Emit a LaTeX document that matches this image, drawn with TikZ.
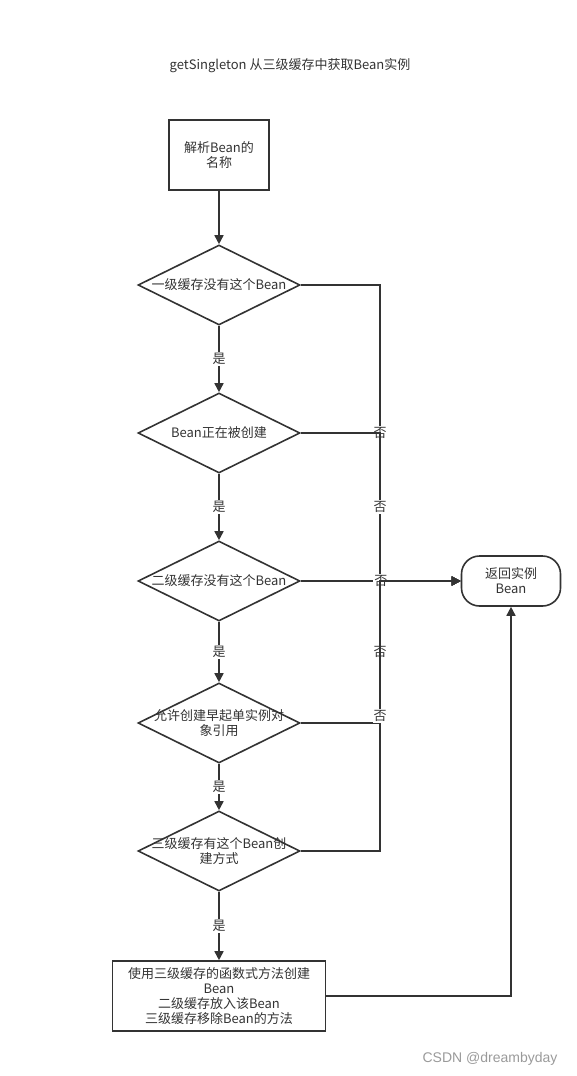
\documentclass[tikz,border=0pt]{standalone}
\usepackage{fontspec}
\setmainfont{Noto Sans CJK SC}
\newfontfamily\markfont{Liberation Sans}
\usetikzlibrary{shapes.geometric,arrows.meta,positioning}
\definecolor{linegray}{HTML}{333333}
\definecolor{markgray}{HTML}{9A9A9A}

\begin{document}
\begin{tikzpicture}[x=1pt, y=1pt, node distance=148pt, color=linegray,
                    line width=1.6pt,
                    every node/.style={font=\fontsize{13}{15}\selectfont},
                    main node/.style={rectangle, draw, align=center, inner sep=0pt,
                                      minimum width=100pt, minimum height=70pt},
                    decision/.style={diamond, draw, inner sep=0pt,
                                     minimum width=162pt, minimum height=80pt},
                    end node/.style={rectangle, rounded corners=18pt, draw, align=center,
                                     minimum width=99pt, minimum height=50pt},
                    answer/.style={fill=white, inner sep=1pt},
                    flow/.style={-{Triangle[length=9pt,width=9pt]}}]
    \useasboundingbox (0,0) rectangle (577,-1076);

    \node (title) at (290,-66) {getSingleton 从三级缓存中获取Bean实例};

    \node[main node] (1) at (219,-155)                 {解析Bean的\\名称};
    \node[decision, label={[align=center]center:一级缓存没有这个Bean}]
                     (2) [below of=1, yshift=18pt]      {};
    \node[decision, label={[align=center]center:Bean正在被创建}]
                     (3) [below of=2]                   {};
    \node[decision, label={[align=center]center:二级缓存没有这个Bean}]
                     (4) [below of=3]                   {};
    \node[decision, label={[align=center]center:{允许创建早起单实例对\\象引用}}]
                     (5) [below of=4, yshift=6pt]       {};
    \node[decision, label={[align=center]center:{三级缓存有这个Bean创\\建方式}}]
                     (6) [below of=5, yshift=20pt]      {};
    \node[main node, minimum width=213pt]
                     (7) [below of=6, yshift=3pt]
                     {使用三级缓存的函数式方法创建\\Bean\\二级缓存放入该Bean\\三级缓存移除Bean的方法};
    \node[end node]  (8) [right of=4, xshift=144pt]     {返回实例\\Bean};
    \coordinate      (j) at ([xshift=161pt]4.center);

    \path[flow]
    (1) edge (2)
    (2) edge node[answer] {是} (3)
    (3) edge node[answer] {是} (4)
    (4) edge node[answer] {是} (5)
    (5) edge node[answer] {是} (6)
    (6) edge node[answer] {是} (7);

    \draw[flow] (2) -| node[answer, pos=0.75] {否} (j) -- (8);
    \draw[flow] (3) -| node[answer, pos=0.75] {否} (j) -- (8);
    \draw[flow] (4) -- node[answer] {否} (8);
    \draw[flow] (5) -| node[answer, pos=0.75] {否} (j) -- (8);
    \draw[flow] (6) -| node[answer, pos=0.75] {否} (j) -- (8);
    \draw[flow] (7) -| (8);

    \node[markgray, font=\markfont\fontsize{14}{16}\selectfont] (mark) at (490,-1059) {CSDN @dreambyday};
\end{tikzpicture}
\end{document}
